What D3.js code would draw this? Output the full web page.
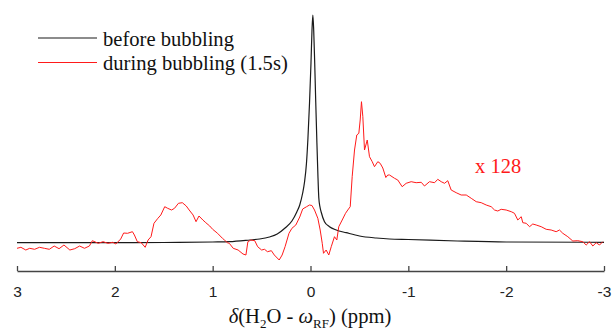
<!DOCTYPE html>
<html>
<head>
<meta charset="utf-8">
<script src="https://cdn.jsdelivr.net/npm/d3@7"></script>
<style>
  body { margin: 0; background: #fff; }
  svg { display: block; }
  .serif { font-family: "Liberation Serif", "Times New Roman", serif; }
  .axis text { font-family: "Liberation Sans", Arial, sans-serif; font-size: 15.5px; fill: #222; }
</style>
</head>
<body>
<div id="chart"></div>
<script>
// chemical shift (ppm) and intensity (a.u.)
const beforePpm = [3.00, 2.00, 1.50, 1.00, 0.83, 0.62, 0.52, 0.42, 0.34, 0.26, 0.19, 0.14, 0.11, 0.08,
  0.061, 0.041, 0.026, 0.010, -0.005, -0.015, -0.024, -0.033, -0.043, -0.053, -0.064, -0.075, -0.085,
  -0.097, -0.109, -0.143, -0.194, -0.263, -0.365, -0.501, -0.672, -0.807, -1.00, -1.50, -2.00, -3.00];
const beforeInt = [0.3, 0.3, 0.5, 1.0, 1.3, 3, 4, 6, 9, 15, 22, 31, 38, 50,
  61, 80, 105, 140, 180, 212, 228, 212, 180, 143, 105, 70, 45,
  36, 31, 21.3, 16.3, 13, 10.3, 7, 5, 4, 3.5, 2, 1, 0.7];

const duringPpm = [3.00, 2.96, 2.91, 2.87, 2.82, 2.77, 2.72, 2.67, 2.62, 2.57, 2.52, 2.46, 2.41, 2.36,
  2.31, 2.26, 2.23, 2.17, 2.12, 2.07, 2.02, 1.99, 1.94, 1.91, 1.87, 1.82, 1.80, 1.77, 1.73, 1.69,
  1.66, 1.63, 1.60, 1.56, 1.53, 1.49, 1.46, 1.42, 1.39, 1.35, 1.31, 1.27, 1.24, 1.20, 1.17, 1.14,
  1.10, 1.07, 1.03, 1.00, 0.95, 0.90, 0.88, 0.85, 0.83, 0.79, 0.74, 0.69, 0.66, 0.64, 0.61, 0.57,
  0.54, 0.50, 0.47, 0.44, 0.40, 0.37, 0.32, 0.29, 0.26, 0.22, 0.19, 0.15, 0.11, 0.08, 0.04, 0.01,
  -0.015, -0.041, -0.075, -0.099, -0.120, -0.133, -0.160, -0.187, -0.212, -0.245, -0.269, -0.289,
  -0.324, -0.358, -0.381, -0.406, -0.426, -0.450, -0.473, -0.494, -0.508, -0.521, -0.535, -0.552,
  -0.580, -0.603, -0.631, -0.654, -0.688, -0.712, -0.739, -0.770, -0.790, -0.808, -0.859, -0.892,
  -0.937, -0.978, -1.029, -1.080, -1.132, -1.165, -1.216, -1.268, -1.301, -1.336, -1.370, -1.403,
  -1.438, -1.489, -1.540, -1.592, -1.643, -1.694, -1.745, -1.796, -1.847, -1.881, -1.914, -1.949,
  -2.000, -2.052, -2.085, -2.119, -2.154, -2.170, -2.205, -2.239, -2.272, -2.307, -2.358, -2.409,
  -2.460, -2.511, -2.545, -2.579, -2.630, -2.681, -2.732, -2.783, -2.818, -2.852, -2.886, -2.920,
  -2.954, -2.988];
const duringInt = [-5.3, -4.3, -7, -5.3, -6.3, -4.3, -5.3, -6.3, -3, -5.7, -2, -7, -5.7, -3,
  -5.3, -3, 2.3, -0.3, 1.3, -0.3, 0.7, -1, 4, 10, 9.7, 11.3, 8, 1.3, 0.3, -4.3,
  3, 6.3, 19.7, 24.7, 28, 36.3, 34.7, 33, 34.7, 39.7, 40.3, 37, 33, 28, 21.3, 27,
  23, 20.3, 17, 13.7, 9.7, 4.7, 3, 0.3, -0.3, -5.3, -7, -11, -12, 1.3, 3, 2.3,
  -3.7, -7, -6.3, -8.7, -7.7, -12, -17, -12, -3.7, 9.7, 14.7, 18, 26, 34, 36.3, 38,
  37.5, 33, 24.7, 13, -0.3, -10.3, -7, -12, -3.7, 6.3, 3, 16.3,
  23, 29.7, 33, 36.3, 66.3, 93, 108, 109.7, 123, 141.3, 126.3, 93,
  103, 86.3, 81.3, 76.3, 81.3, 79.7, 75, 65.5, 68, 68, 64.7, 63,
  56.3, 59.7, 61.3, 60.3, 60.7, 57, 61.3, 60.3, 63.7, 61.3, 59.7, 62.3,
  53, 50.3, 48, 48, 44.7, 41.3, 40.3, 38, 36.3, 33, 32, 33.7,
  33, 31.3, 29.7, 23, 26.3, 20.3, 19.7, 16.3, 19, 18, 16.3, 13.7,
  13, 11.3, 13, 9.7, 6.3, 2, 2.3, 1.3, -2, 1.3, -3, 0.3,
  -2, 1.3];

const xTicks = [3, 2, 1, 0, -1, -2, -3];
const seriesNames = ["before bubbling", "during bubbling (1.5s)"];
const seriesColors = ["#1a1a1a", "#ff1a1a"];
const scaleNote = "x 128";

const width = 615, height = 331;
const svg = d3.select("#chart").append("svg")
  .attr("width", width)
  .attr("height", height);

const x = d3.scaleLinear().domain([3, -3]).range([17, 604]);
const y = d3.scaleLinear().domain([-28, 233]).range([271, 10]);

// x axis, ticks pointing inward
const xAxis = svg.append("g")
  .attr("class", "axis")
  .attr("transform", `translate(0, ${y(-28)})`)
  .call(d3.axisBottom(x).tickValues(xTicks).tickSize(-5).tickSizeOuter(0)
    .tickPadding(15).tickFormat(d => String(d)));
xAxis.select(".domain").attr("stroke", "#444").attr("stroke-width", 1.3);
xAxis.selectAll(".tick line").attr("stroke", "#444").attr("stroke-width", 1.3);

const line = d3.line()
  .x(d => x(d[0]))
  .y(d => y(d[1]));

const before = beforePpm.map((p, i) => [p, beforeInt[i]]);
const during = duringPpm.map((p, i) => [p, duringInt[i]]);

svg.append("path")
  .datum(before)
  .attr("fill", "none")
  .attr("stroke", seriesColors[0])
  .attr("stroke-width", 1.2)
  .attr("d", line.curve(d3.curveMonotoneX));

svg.append("path")
  .datum(during)
  .attr("fill", "none")
  .attr("stroke", seriesColors[1])
  .attr("stroke-width", 1)
  .attr("d", line.curve(d3.curveLinear));

// legend
const legend = svg.append("g").attr("class", "serif");
seriesNames.forEach((name, i) => {
  const ly = 38 + i * 24.5;
  legend.append("line")
    .attr("x1", 38).attr("x2", 97)
    .attr("y1", ly).attr("y2", ly)
    .attr("stroke", seriesColors[i])
    .attr("stroke-width", i === 0 ? 1.2 : 1);
  legend.append("text")
    .attr("x", 103).attr("y", ly + 7.5)
    .attr("font-size", 20.6)
    .attr("fill", "#111")
    .text(name);
});

svg.append("text")
  .attr("class", "serif")
  .attr("x", 475).attr("y", 173)
  .attr("font-size", 20.5)
  .attr("fill", "#ff1a1a")
  .text(scaleNote);

// axis title: δ(H2O - ωRF) (ppm)
const title = svg.append("text")
  .attr("class", "serif")
  .attr("x", 310).attr("y", 323)
  .attr("text-anchor", "middle")
  .attr("font-size", 20.6)
  .attr("fill", "#111");
title.append("tspan").attr("font-style", "italic").text("δ");
title.append("tspan").text("(H");
title.append("tspan").attr("dy", 5).attr("font-size", 13).text("2");
title.append("tspan").attr("dy", -5).text("O - ");
title.append("tspan").attr("font-style", "italic").text("ω");
title.append("tspan").attr("dy", 5).attr("font-size", 13).text("RF");
title.append("tspan").attr("dy", -5).text(") (ppm)");
</script>
</body>
</html>
